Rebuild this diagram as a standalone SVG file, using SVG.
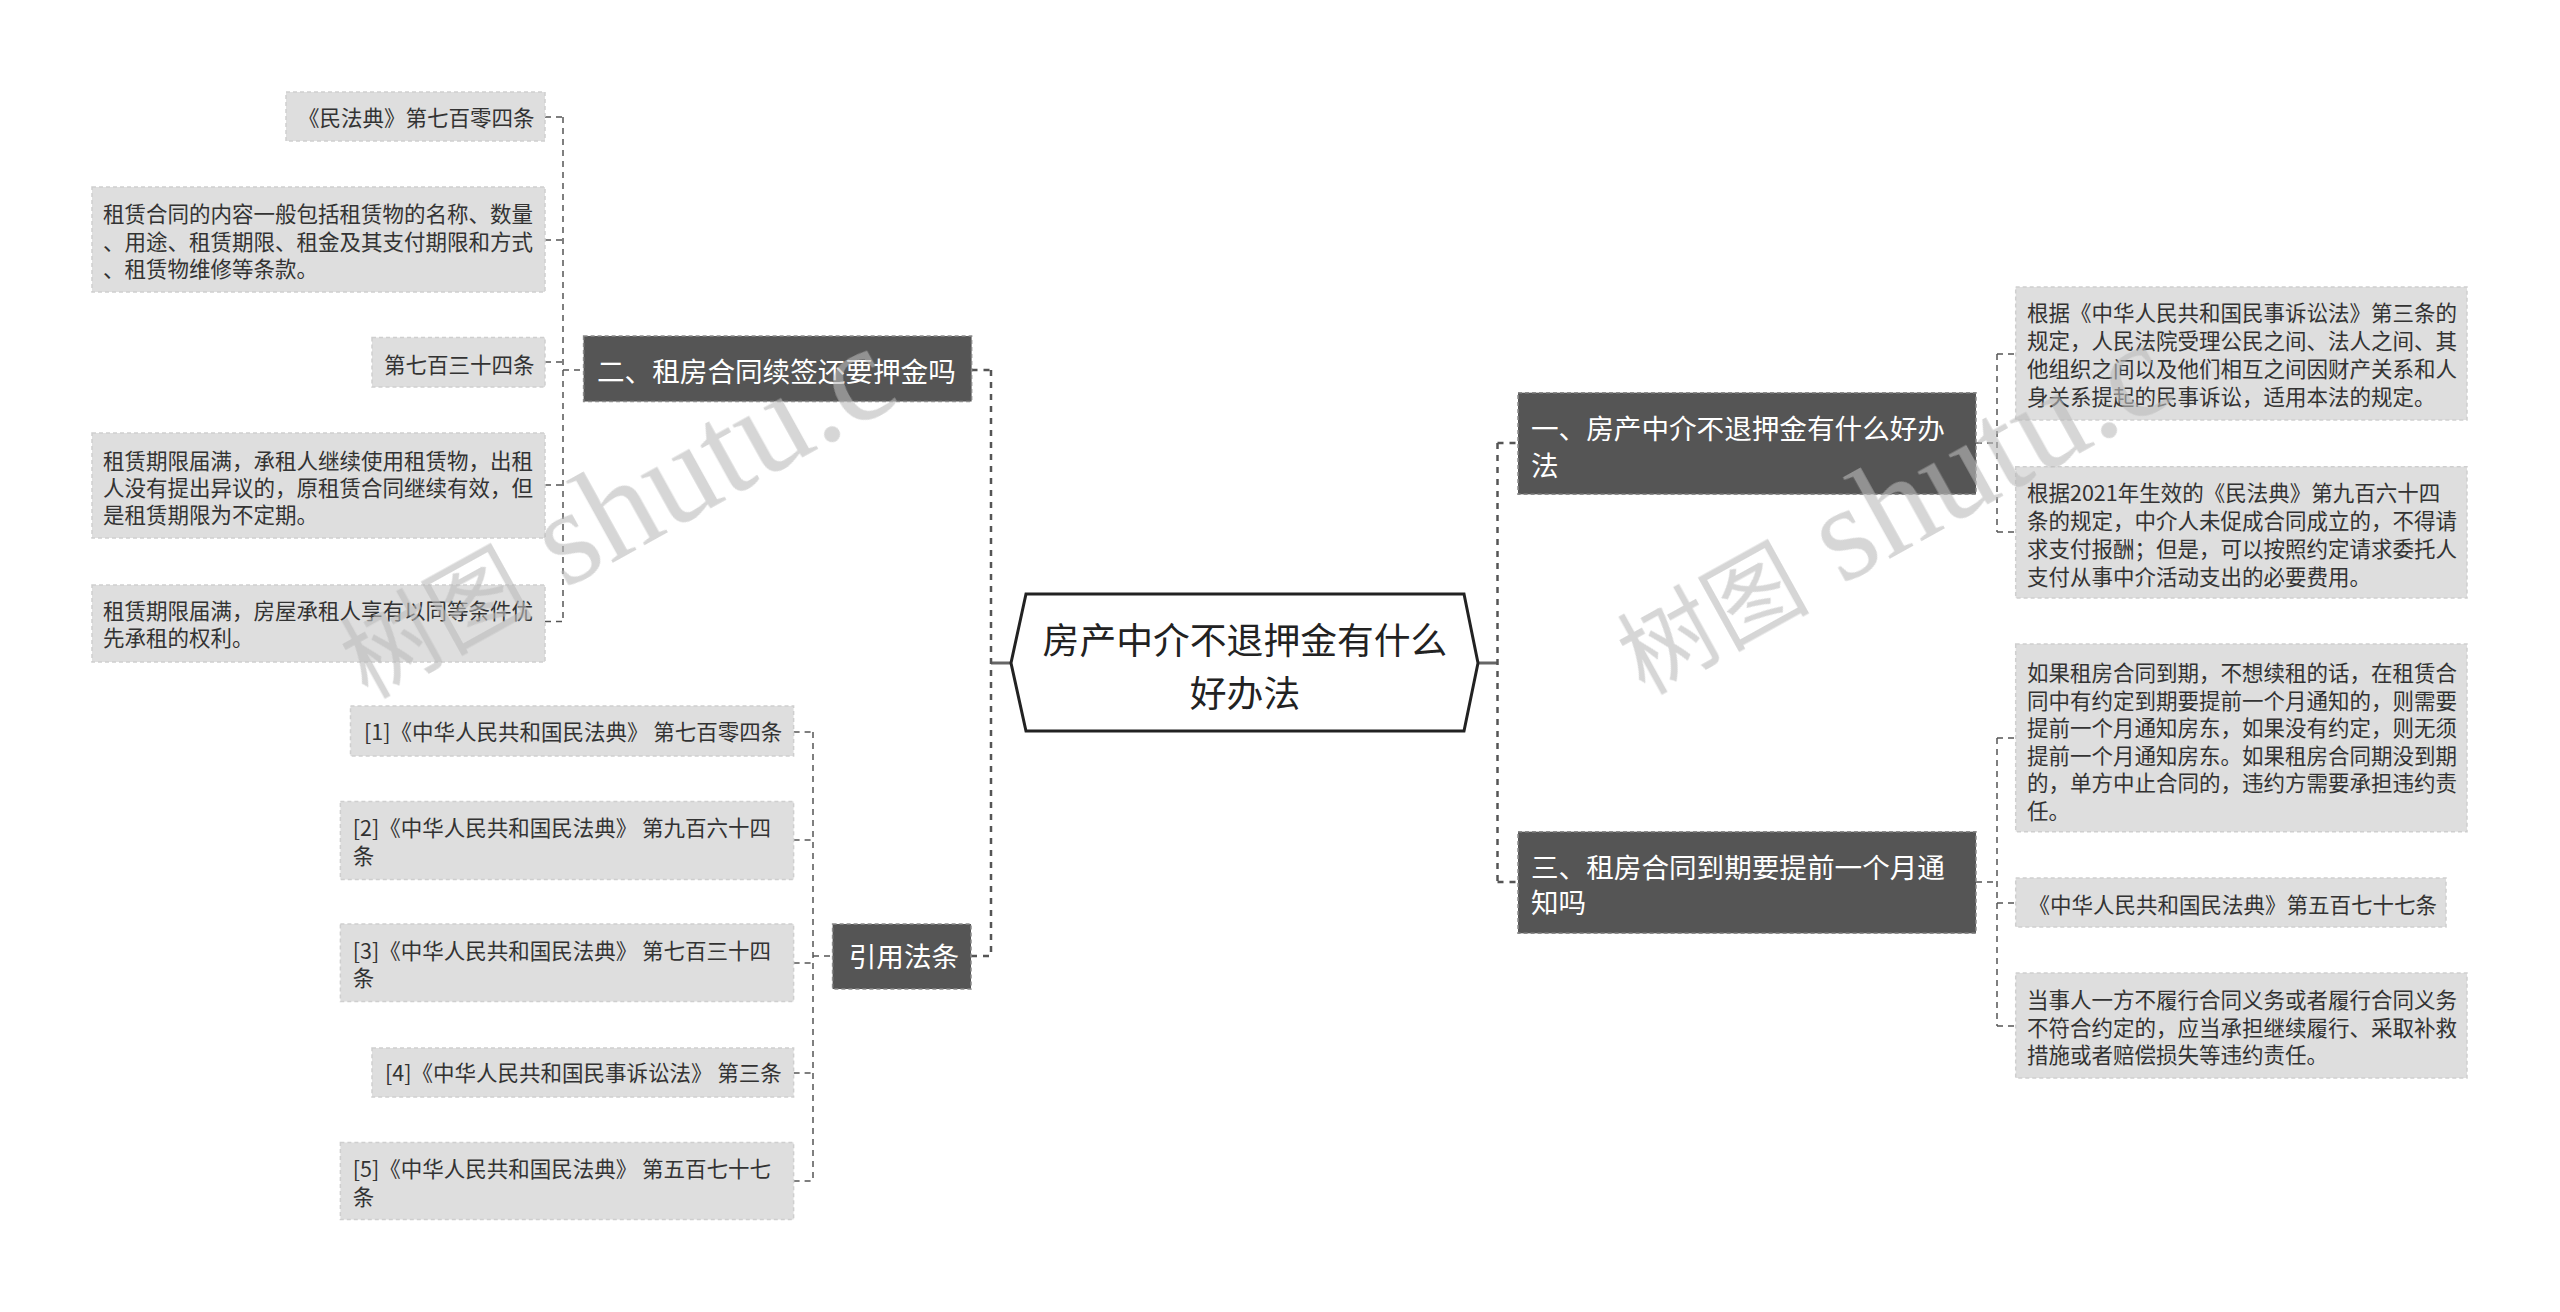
<svg xmlns="http://www.w3.org/2000/svg" width="2560" height="1312" viewBox="0 0 2560 1312">
<style>
text{font-family:"Noto Sans CJK SC","Noto Sans",sans-serif}
.leaf rect{fill:#dedede;stroke:#cfcfcf;stroke-width:1.5;stroke-dasharray:4 3}
.leaf text{font-size:21.5px;fill:#333}
.branch rect{fill:#555;stroke:#8a8a8a;stroke-width:1.5;stroke-dasharray:4 3}
.branch text{font-size:27.6px;fill:#fff}
.main{fill:none;stroke:#555;stroke-width:2.5;stroke-dasharray:6 6}
.thin{fill:none;stroke:#555;stroke-width:1.5;stroke-dasharray:6 5}
.solid{fill:none;stroke:#666;stroke-width:3}
.wm{fill:#bbb;opacity:0.6}
</style>
<rect width="2560" height="1312" fill="#fff"/>
<g id="connectors">
<path class="solid" d="M991,663H1011M1478,663H1497.5"/>
<path class="main" d="M991,370V956M971.5,370H991M971,956H991"/>
<path class="main" d="M1497.5,443V882M1497.5,443H1518M1497.5,882H1518"/>
<path class="thin" d="M563,117V621.5M545,117H563M545,240H563M545,362H563M545,485H563M545,621.5H563M563,370H583.6"/>
<path class="thin" d="M813,732V1181M793.6,732H813M793.6,840H813M793.6,963H813M793.6,1073H813M793.6,1181H813M813,956H832.6"/>
<path class="thin" d="M1997,354V532M1976,443H1997M1997,354H2015.7M1997,532H2015.7"/>
<path class="thin" d="M1997,738V1026M1976,882H1997M1997,738H2015.7M1997,903H2015.7M1997,1026H2015.7"/>
</g>
<g id="root">
<polygon points="1026,594 1464,594 1478,663 1464,731 1026,731 1011,663" fill="#fff" stroke="#222" stroke-width="3"/>
<text x="1245" y="654" font-size="36.8" fill="#222" text-anchor="middle">房产中介不退押金有什么</text>
<text x="1245" y="707" font-size="36.8" fill="#222" text-anchor="middle">好办法</text>
</g>
<g id="b2" class="branch"><rect x="583.6" y="336" width="388" height="65.5"/><text x="597" y="381.5">二、租房合同续签还要押金吗</text></g>
<g id="b4" class="branch"><rect x="832.6" y="924" width="138.4" height="65"/><text x="848.7" y="967">引用法条</text></g>
<g id="b1" class="branch"><rect x="1518" y="392.7" width="458" height="101.6"/><text x="1531" y="438.5">一、房产中介不退押金有什么好办</text><text x="1531" y="475.5">法</text></g>
<g id="b3" class="branch"><rect x="1518" y="831.7" width="458" height="101.6"/><text x="1531" y="877.5">三、租房合同到期要提前一个月通</text><text x="1531" y="913">知吗</text></g>
<g id="l1" class="leaf"><rect x="286" y="92" width="259" height="49"/><text x="298" y="126">《民法典》第七百零四条</text></g>
<g id="l2" class="leaf"><rect x="92" y="187" width="453" height="105"/><text x="103" y="222">租赁合同的内容一般包括租赁物的名称、数量</text><text x="103" y="249.5">、用途、租赁期限、租金及其支付期限和方式</text><text x="103" y="277">、租赁物维修等条款。</text></g>
<g id="l3" class="leaf"><rect x="372" y="337.5" width="173" height="49.5"/><text x="384" y="373">第七百三十四条</text></g>
<g id="l4" class="leaf"><rect x="92" y="433" width="453" height="105"/><text x="103" y="469">租赁期限届满，承租人继续使用租赁物，出租</text><text x="103" y="496">人没有提出异议的，原租赁合同继续有效，但</text><text x="103" y="522.5">是租赁期限为不定期。</text></g>
<g id="l5" class="leaf"><rect x="92" y="585" width="453" height="77"/><text x="103" y="619">租赁期限届满，房屋承租人享有以同等条件优</text><text x="103" y="646">先承租的权利。</text></g>
<g id="c1" class="leaf"><rect x="350.5" y="706" width="443.1" height="50"/><text x="364" y="740">[1]《中华人民共和国民法典》 第七百零四条</text></g>
<g id="c2" class="leaf"><rect x="340.4" y="801.5" width="453.2" height="78"/><text x="352.8" y="836">[2]《中华人民共和国民法典》 第九百六十四</text><text x="352.8" y="863.5">条</text></g>
<g id="c3" class="leaf"><rect x="340.4" y="924" width="453.2" height="77.5"/><text x="352.8" y="959">[3]《中华人民共和国民法典》 第七百三十四</text><text x="352.8" y="986">条</text></g>
<g id="c4" class="leaf"><rect x="372" y="1048" width="421.6" height="49"/><text x="385" y="1081">[4]《中华人民共和国民事诉讼法》 第三条</text></g>
<g id="c5" class="leaf"><rect x="340.4" y="1142.5" width="453.2" height="77"/><text x="352.8" y="1177">[5]《中华人民共和国民法典》 第五百七十七</text><text x="352.8" y="1205">条</text></g>
<g id="r1" class="leaf"><rect x="2015.7" y="287" width="451.3" height="133"/><text x="2027" y="321">根据《中华人民共和国民事诉讼法》第三条的</text><text x="2027" y="349">规定，人民法院受理公民之间、法人之间、其</text><text x="2027" y="377">他组织之间以及他们相互之间因财产关系和人</text><text x="2027" y="405">身关系提起的民事诉讼，适用本法的规定。</text></g>
<g id="r2" class="leaf"><rect x="2015.7" y="466.7" width="451.3" height="131.3"/><text x="2027" y="501">根据2021年生效的《民法典》第九百六十四</text><text x="2027" y="529">条的规定，中介人未促成合同成立的，不得请</text><text x="2027" y="557">求支付报酬；但是，可以按照约定请求委托人</text><text x="2027" y="585">支付从事中介活动支出的必要费用。</text></g>
<g id="r3" class="leaf"><rect x="2015.7" y="644" width="451.3" height="187.7"/><text x="2027" y="681">如果租房合同到期，不想续租的话，在租赁合</text><text x="2027" y="708.5">同中有约定到期要提前一个月通知的，则需要</text><text x="2027" y="736">提前一个月通知房东，如果没有约定，则无须</text><text x="2027" y="763.5">提前一个月通知房东。如果租房合同期没到期</text><text x="2027" y="791">的，单方中止合同的，违约方需要承担违约责</text><text x="2027" y="818.5">任。</text></g>
<g id="r4" class="leaf"><rect x="2015.7" y="878" width="430.3" height="49"/><text x="2028.5" y="913">《中华人民共和国民法典》第五百七十七条</text></g>
<g id="r5" class="leaf"><rect x="2015.7" y="973" width="451.3" height="105"/><text x="2027" y="1008">当事人一方不履行合同义务或者履行合同义务</text><text x="2027" y="1035.5">不符合约定的，应当承担继续履行、采取补救</text><text x="2027" y="1063">措施或者赔偿损失等违约责任。</text></g>
<g id="watermark" class="wm">
<text transform="translate(367,699) rotate(-29)" font-size="96">树图<tspan font-family="Liberation Serif,serif" font-size="135"> shutu.c</tspan></text>
<text transform="translate(1644,695) rotate(-29)" font-size="96">树图<tspan font-family="Liberation Serif,serif" font-size="135"> shutu.c</tspan></text>
</g>
</svg>
